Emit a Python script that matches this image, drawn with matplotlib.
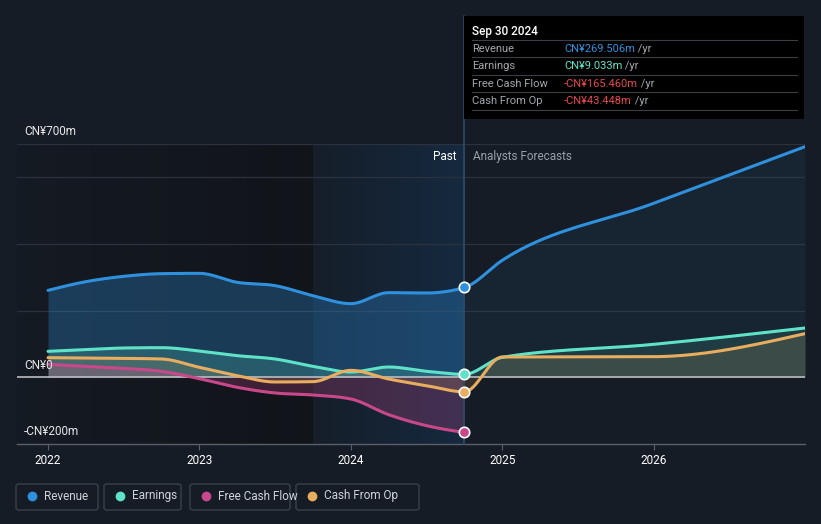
import numpy as np
import matplotlib
matplotlib.use('Agg')
import matplotlib.pyplot as plt
from matplotlib.patches import FancyBboxPatch, Rectangle
from matplotlib.lines import Line2D

plt.rcParams['font.family'] = ['Roboto', 'DejaVu Sans']

# ---------------- data ----------------
past_t = [2022.0, 2022.25, 2022.5, 2022.75, 2023.0, 2023.25, 2023.5, 2023.75,
          2024.0, 2024.25, 2024.5, 2024.75]
fc_t = [2025.0, 2026.0, 2027.0]

revenue_past = [261, 287, 303, 311, 312, 285, 275, 245, 221, 254, 253, 269.506]
revenue_fc = [351, 522, 692]
earnings_past = [78, 83, 88, 89, 79, 65, 55, 33, 16, 31, 18, 9.033]
earnings_fc = [60, 99, 148]
fcf_past = [39, 33, 27, 18, -4, -30, -47, -53, -65, -112, -145, -165.46]
cfo_past = [59, 58, 57, 55, 30, 5, -14, -13, 21, -5, -25, -43.448]
cfo_fc = [61, 62, 131]

series_names = ['Revenue', 'Earnings', 'Free Cash Flow', 'Cash From Op']
colors = ['#2f91de', '#5fe3c8', '#c9488c', '#e8ad5e']
ytick_vals = [700, 0, -200]
ytick_labels = ['CN¥700m', 'CN¥0', '-CN¥200m']
grid_vals = [700, 600, 400, 200]
xtick_vals = [2022, 2023, 2024, 2025, 2026]
xtick_labels = ['2022', '2023', '2024', '2025', '2026']

tooltip_date = 'Sep 30 2024'
tooltip_rows = [('Revenue', 'CN¥269.506m', '#2f91de'),
                ('Earnings', 'CN¥9.033m', '#5fe3c8'),
                ('Free Cash Flow', '-CN¥165.460m', '#e5484d'),
                ('Cash From Op', '-CN¥43.448m', '#e5484d')]

BG = '#161c26'
W, H = 821, 524


def monotone(x, y, n=40):
    x = np.asarray(x, float); y = np.asarray(y, float)
    h = np.diff(x); s = np.diff(y) / h
    m = np.zeros_like(y)
    for i in range(1, len(x) - 1):
        p = (s[i - 1] * h[i] + s[i] * h[i - 1]) / (h[i - 1] + h[i])
        m[i] = (np.sign(s[i - 1]) + np.sign(s[i])) * min(abs(s[i - 1]), abs(s[i]), 0.5 * abs(p))
    m[0] = (3 * s[0] - m[1]) / 2 if len(x) > 2 else s[0]
    m[-1] = (3 * s[-1] - m[-2]) / 2 if len(x) > 2 else s[-1]
    xs, ys = [], []
    for i in range(len(x) - 1):
        t = np.linspace(0, 1, n, endpoint=(i == len(x) - 2))
        h00 = 2 * t**3 - 3 * t**2 + 1; h10 = t**3 - 2 * t**2 + t
        h01 = -2 * t**3 + 3 * t**2; h11 = t**3 - t**2
        xs.append(x[i] + t * h[i])
        ys.append(h00 * y[i] + h10 * h[i] * m[i] + h01 * y[i + 1] + h11 * h[i] * m[i + 1])
    return np.concatenate(xs), np.concatenate(ys)


def fx(px):
    return px / W


def fy(py):
    return 1 - py / H


fig = plt.figure(figsize=(W / 100, H / 100), dpi=100, facecolor=BG)
ax = fig.add_axes([fx(17), fy(444), fx(805) - fx(17), fy(144) - fy(444)])
ax.set_facecolor(BG)
x0, x1 = 2021.795, 2027.0

# background regions
grad = np.linspace(0, 1, 256).reshape(1, -1)
dark = np.zeros((1, 256, 4))
dark[..., 0] = 0.06; dark[..., 1] = 0.07; dark[..., 2] = 0.08
dark[..., 3] = 0.15 + 0.55 * grad
ax.imshow(dark, extent=[x0, 2023.75, -200, 700], aspect='auto', zorder=0, interpolation='bilinear')
blue = np.zeros((1, 256, 4))
blue[..., 0] = 0.08; blue[..., 1] = 0.22; blue[..., 2] = 0.36
blue[..., 3] = 0.08 + 0.4 * grad
ax.imshow(blue, extent=[2023.75, 2024.75, -200, 700], aspect='auto', zorder=0, interpolation='bilinear')
ax.set_xlim(x0, x1)
ax.set_ylim(-200, 700)

for g in grid_vals:
    ax.axhline(g, color='#2b323d', lw=0.9, zorder=1)
ax.axhline(0, color='#b9bcc0', lw=1.2, zorder=4)

# series
all_past = [revenue_past, earnings_past, fcf_past, cfo_past]
all_fc = [revenue_fc, earnings_fc, None, cfo_fc]
past_alpha = [0.3, 0.2, 0.25, 0.16]
fc_alpha = [0.07, 0.12, 0.0, 0.14]
for vals_p, vals_f, c, ap, af in zip(all_past, all_fc, colors, past_alpha, fc_alpha):
    t = list(past_t); v = list(vals_p)
    if vals_f is not None:
        t += fc_t; v += vals_f
    xs, ys = monotone(t, v)
    mp = xs <= past_t[-1] + 1e-9
    ax.fill_between(xs[mp], ys[mp], 0, color=c, alpha=ap, lw=0, zorder=2)
    if vals_f is not None:
        mf = xs >= past_t[-1] - 1e-9
        ax.fill_between(xs[mf], ys[mf], 0, color=c, alpha=af, lw=0, zorder=2)
    ax.plot(xs, ys, color=c, lw=2.2, zorder=5, solid_capstyle='round')
    ax.plot([past_t[-1]], [vals_p[-1]], 'o', ms=7.5, mfc=c, mec='white', mew=1.2, zorder=6)

# vertical divider line
ax.plot([2024.75, 2024.75], [-200, 700 + (144 - 16) * 900 / 300], color='#2e4b68', lw=1.2,
        clip_on=False, zorder=3)

# ticks
ax.set_xticks(xtick_vals)
ax.set_xticklabels(xtick_labels, color='white', fontsize=8.5)
ax.tick_params(axis='x', length=4, color='#5a606a', pad=3)
ax.set_yticks([])
for sp in ['top', 'right', 'left']:
    ax.spines[sp].set_visible(False)
ax.spines['bottom'].set_color('#5a606a')
ax.spines['bottom'].set_linewidth(1.0)

for v, lab in zip(ytick_vals, ytick_labels):
    ax.annotate(lab, xy=(0, v), xycoords=('axes fraction', 'data'), xytext=(5, 4),
                textcoords='offset points', color='#e6e6e6', fontsize=8.5, va='bottom', ha='left',
                zorder=7)

ax.annotate('Past', xy=(2024.75, 700), xytext=(-6, -4.5), textcoords='offset points',
            color='white', fontsize=8.5, ha='right', va='top')
ax.annotate('Analysts Forecasts', xy=(2024.75, 700), xytext=(6, -4.5), textcoords='offset points',
            color='#9aa0a6', fontsize=8.5, ha='left', va='top')

# tooltip
fig.patches.append(Rectangle((fx(464), fy(119)), fx(804) - fx(464), fy(16) - fy(119),
                             transform=fig.transFigure, facecolor='#000000', edgecolor='none',
                             zorder=10))
fig.text(fx(472), fy(31), tooltip_date, color='white', fontsize=8.5, fontweight='medium',
         va='center', ha='left', zorder=11)
row_y = [49, 66, 84, 101]
sep_y = [40, 57, 75, 92, 110]
for sy in sep_y:
    fig.add_artist(Line2D([fx(472), fx(797)], [fy(sy), fy(sy)], color='#3a3f46', lw=0.8, zorder=11))
for (lab, val, c), ry in zip(tooltip_rows, row_y):
    fig.text(fx(472), fy(ry), lab, color='#a3a8ae', fontsize=8, va='center', ha='left', zorder=11)
    t = fig.text(fx(564), fy(ry), val, color=c, fontsize=8, va='center', ha='left', zorder=11)
    fig.add_artist(plt.Annotation(' /yr', xy=(1, 0.5), xycoords=t, va='center', ha='left',
                                  color='#a3a8ae', fontsize=8, zorder=11))

# legend
boxes = [(16, 98), (104, 181), (190, 290), (296, 419)]
for (bx0, bx1), name, c in zip(boxes, series_names, colors):
    fig.patches.append(FancyBboxPatch((fx(bx0), fy(510)), fx(bx1) - fx(bx0), fy(484) - fy(510),
                                      boxstyle='round,pad=0,rounding_size=0.004',
                                      transform=fig.transFigure, facecolor='none',
                                      edgecolor='#3a414b', lw=1.0))
    fig.add_artist(Line2D([fx(bx0 + 16)], [fy(496)], marker='o', ms=6, color=c, mec=c))
    fig.text(fx(bx0 + 28), fy(496), name, color='#d0d3d7', fontsize=8.5, va='center', ha='left')

fig.savefig('out.png', dpi=100, facecolor=BG)
